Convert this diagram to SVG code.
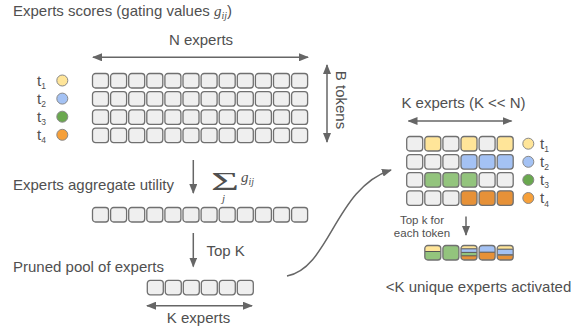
<svg xmlns="http://www.w3.org/2000/svg" xmlns:xlink="http://www.w3.org/1999/xlink" width="579" height="333" viewBox="0 0 579 333">
<style>
text{font-family:"Liberation Sans",Arial,sans-serif;fill:#505050}
.lbl{font-size:15px}
.small{font-size:11.5px}
.math{font-family:"Liberation Serif","Times New Roman",serif;font-style:italic}
.ln{stroke:#666;stroke-width:1.5;fill:none}
.g{fill:#efefef}.y{fill:#ffe599}.b{fill:#a4c2f4}.gr{fill:#93c47d}.o{fill:#e69138}
.c{stroke:#888;stroke-width:1}
.sep{stroke:#555;stroke-width:1}
</style>
<defs>
<rect id="bx" width="16" height="14.5" rx="3" stroke="#707070" stroke-width="1.3"/>
<marker id="ah" markerUnits="userSpaceOnUse" markerWidth="10" markerHeight="8" refX="9" refY="4" orient="auto-start-reverse">
<path d="M0,0 L10,4 L0,8 z" fill="#666"/>
</marker>
<clipPath id="rc" clipPathUnits="objectBoundingBox"><rect x="0" y="0" width="1" height="1" rx="0.19" ry="0.2"/></clipPath>
</defs>

<g id="title"><text class="lbl" x="13" y="16">Experts scores (gating values <tspan class="math">g</tspan><tspan class="math" font-size="10" dy="3">ij</tspan><tspan dy="-3">)</tspan></text></g>

<g id="n-experts-label"><text class="lbl" x="201" y="44.5" text-anchor="middle">N experts</text></g>
<g id="b-tokens-label"><text class="lbl" transform="translate(336,100) rotate(90)" text-anchor="middle">B tokens</text></g>

<g id="token-labels-left">
<circle class="c y" cx="62.3" cy="80.5" r="5.5"/>
<circle class="c b" cx="62.3" cy="98.6" r="5.5"/>
<circle class="c" fill="#6aa84f" cx="62.3" cy="116.7" r="5.5"/>
<circle class="c" fill="#f6a03a" cx="62.3" cy="134.8" r="5.5"/>
<text class="lbl" x="37" y="85.5">t<tspan font-size="8.5" dy="3.5">1</tspan></text>
<text class="lbl" x="37" y="103.6">t<tspan font-size="8.5" dy="3.5">2</tspan></text>
<text class="lbl" x="37" y="121.7">t<tspan font-size="8.5" dy="3.5">3</tspan></text>
<text class="lbl" x="37" y="139.8">t<tspan font-size="8.5" dy="3.5">4</tspan></text>
</g>

<g id="score-grid" class="g">
<use href="#bx" x="92.5" y="73.5"/><use href="#bx" x="110.6" y="73.5"/><use href="#bx" x="128.7" y="73.5"/><use href="#bx" x="146.8" y="73.5"/><use href="#bx" x="164.9" y="73.5"/><use href="#bx" x="183" y="73.5"/><use href="#bx" x="201.1" y="73.5"/><use href="#bx" x="219.2" y="73.5"/><use href="#bx" x="237.3" y="73.5"/><use href="#bx" x="255.4" y="73.5"/><use href="#bx" x="273.5" y="73.5"/><use href="#bx" x="291.6" y="73.5"/>
<use href="#bx" x="92.5" y="91.7"/><use href="#bx" x="110.6" y="91.7"/><use href="#bx" x="128.7" y="91.7"/><use href="#bx" x="146.8" y="91.7"/><use href="#bx" x="164.9" y="91.7"/><use href="#bx" x="183" y="91.7"/><use href="#bx" x="201.1" y="91.7"/><use href="#bx" x="219.2" y="91.7"/><use href="#bx" x="237.3" y="91.7"/><use href="#bx" x="255.4" y="91.7"/><use href="#bx" x="273.5" y="91.7"/><use href="#bx" x="291.6" y="91.7"/>
<use href="#bx" x="92.5" y="109.9"/><use href="#bx" x="110.6" y="109.9"/><use href="#bx" x="128.7" y="109.9"/><use href="#bx" x="146.8" y="109.9"/><use href="#bx" x="164.9" y="109.9"/><use href="#bx" x="183" y="109.9"/><use href="#bx" x="201.1" y="109.9"/><use href="#bx" x="219.2" y="109.9"/><use href="#bx" x="237.3" y="109.9"/><use href="#bx" x="255.4" y="109.9"/><use href="#bx" x="273.5" y="109.9"/><use href="#bx" x="291.6" y="109.9"/>
<use href="#bx" x="92.5" y="128.1"/><use href="#bx" x="110.6" y="128.1"/><use href="#bx" x="128.7" y="128.1"/><use href="#bx" x="146.8" y="128.1"/><use href="#bx" x="164.9" y="128.1"/><use href="#bx" x="183" y="128.1"/><use href="#bx" x="201.1" y="128.1"/><use href="#bx" x="219.2" y="128.1"/><use href="#bx" x="237.3" y="128.1"/><use href="#bx" x="255.4" y="128.1"/><use href="#bx" x="273.5" y="128.1"/><use href="#bx" x="291.6" y="128.1"/>
</g>

<g id="aggregate-label">
<text class="lbl" x="13" y="190">Experts aggregate utility</text>
<text transform="translate(225,190) scale(2.1,1.05)" text-anchor="middle" font-size="23" style="font-family:'Liberation Serif','Times New Roman',serif">Σ</text>
<text class="math" x="241" y="182" font-size="15">g<tspan font-size="10" dy="3">ij</tspan></text>
<text class="math" x="223.5" y="202" font-size="11" text-anchor="middle">j</text>
</g>

<g id="aggregate-row" class="g">
<use href="#bx" x="92.5" y="207.5"/><use href="#bx" x="110.6" y="207.5"/><use href="#bx" x="128.7" y="207.5"/><use href="#bx" x="146.8" y="207.5"/><use href="#bx" x="164.9" y="207.5"/><use href="#bx" x="183" y="207.5"/><use href="#bx" x="201.1" y="207.5"/><use href="#bx" x="219.2" y="207.5"/><use href="#bx" x="237.3" y="207.5"/><use href="#bx" x="255.4" y="207.5"/><use href="#bx" x="273.5" y="207.5"/><use href="#bx" x="291.6" y="207.5"/>
</g>

<g id="topk-label"><text class="lbl" x="206.5" y="256">Top K</text></g>
<g id="pruned-label"><text class="lbl" x="13" y="271.5">Pruned pool of experts</text></g>

<g id="pruned-row" class="g">
<use href="#bx" x="147.3" y="280.3"/><use href="#bx" x="165.3" y="280.3"/><use href="#bx" x="183.3" y="280.3"/><use href="#bx" x="201.3" y="280.3"/><use href="#bx" x="219.3" y="280.3"/><use href="#bx" x="237.3" y="280.3"/>
</g>
<g id="k-experts-label"><text class="lbl" x="198.5" y="323" text-anchor="middle">K experts</text></g>

<g id="right-title"><text class="lbl" x="463.5" y="107.5" text-anchor="middle">K experts (K &lt;&lt; N)</text></g>

<g id="right-grid">
<use href="#bx" class="g" x="406.7" y="136.5"/><use href="#bx" class="y" x="424.8" y="136.5"/><use href="#bx" class="g" x="442.9" y="136.5"/><use href="#bx" class="y" x="461" y="136.5"/><use href="#bx" class="g" x="479.1" y="136.5"/><use href="#bx" class="y" x="497.2" y="136.5"/>
<use href="#bx" class="g" x="406.7" y="154.6"/><use href="#bx" class="g" x="424.8" y="154.6"/><use href="#bx" class="g" x="442.9" y="154.6"/><use href="#bx" class="b" x="461" y="154.6"/><use href="#bx" class="b" x="479.1" y="154.6"/><use href="#bx" class="b" x="497.2" y="154.6"/>
<use href="#bx" class="g" x="406.7" y="172.7"/><use href="#bx" class="gr" x="424.8" y="172.7"/><use href="#bx" class="gr" x="442.9" y="172.7"/><use href="#bx" class="gr" x="461" y="172.7"/><use href="#bx" class="g" x="479.1" y="172.7"/><use href="#bx" class="g" x="497.2" y="172.7"/>
<use href="#bx" class="g" x="406.7" y="190.8"/><use href="#bx" class="g" x="424.8" y="190.8"/><use href="#bx" class="g" x="442.9" y="190.8"/><use href="#bx" class="o" x="461" y="190.8"/><use href="#bx" class="o" x="479.1" y="190.8"/><use href="#bx" class="o" x="497.2" y="190.8"/>
</g>

<g id="token-labels-right">
<circle class="c y" cx="528.3" cy="143.7" r="5.5"/>
<circle class="c b" cx="528.3" cy="161.8" r="5.5"/>
<circle class="c" fill="#6aa84f" cx="528.3" cy="179.9" r="5.5"/>
<circle class="c" fill="#f6a03a" cx="528.3" cy="198" r="5.5"/>
<text class="lbl" x="540" y="148.7">t<tspan font-size="8.5" dy="3.5">1</tspan></text>
<text class="lbl" x="540" y="166.8">t<tspan font-size="8.5" dy="3.5">2</tspan></text>
<text class="lbl" x="540" y="184.9">t<tspan font-size="8.5" dy="3.5">3</tspan></text>
<text class="lbl" x="540" y="203">t<tspan font-size="8.5" dy="3.5">4</tspan></text>
</g>

<g id="topk-token-label">
<text class="small" x="422" y="223.5" text-anchor="middle">Top k for</text>
<text class="small" x="422" y="237" text-anchor="middle">each token</text>
</g>

<g id="activated-boxes">
<g clip-path="url(#rc)">
<rect class="y" x="424.8" y="245.2" width="16" height="6.3"/><rect class="gr" x="424.8" y="251.5" width="16" height="8.5"/>
<line class="sep" x1="424.8" y1="251.5" x2="440.8" y2="251.5"/>
</g>
<use href="#bx" x="424.8" y="245.5" fill="none"/>
<use href="#bx" class="gr" x="442.9" y="245.5"/>
<g clip-path="url(#rc)">
<rect class="y" x="461" y="245.2" width="16" height="3.6"/><rect class="b" x="461" y="248.8" width="16" height="3.6"/><rect class="gr" x="461" y="252.4" width="16" height="3.4"/><rect class="o" x="461" y="255.8" width="16" height="4.2"/>
<line class="sep" x1="461" y1="248.8" x2="477" y2="248.8"/><line class="sep" x1="461" y1="252.4" x2="477" y2="252.4"/><line class="sep" x1="461" y1="255.8" x2="477" y2="255.8" stroke-width="1.4"/>
</g>
<use href="#bx" x="461" y="245.5" fill="none"/>
<g clip-path="url(#rc)">
<rect class="b" x="479.1" y="245.2" width="16" height="7"/><rect class="o" x="479.1" y="252.2" width="16" height="7.8"/>
<line class="sep" x1="479.1" y1="252.2" x2="495.1" y2="252.2"/>
</g>
<use href="#bx" x="479.1" y="245.5" fill="none"/>
<g clip-path="url(#rc)">
<rect class="y" x="497.2" y="245.2" width="16" height="4"/><rect class="b" x="497.2" y="249.2" width="16" height="5"/><rect fill="#555" x="497.2" y="254.2" width="16" height="1.6"/><rect class="o" x="497.2" y="255.8" width="16" height="4.2"/>
<line class="sep" x1="497.2" y1="249.2" x2="513.2" y2="249.2"/>
</g>
<use href="#bx" x="497.2" y="245.5" fill="none"/>
</g>

<g id="activated-label"><text class="lbl" x="478.5" y="292" text-anchor="middle">&lt;K unique experts activated</text></g>

<g id="connectors">
<line class="ln" x1="93" y1="57.3" x2="308" y2="57.3" marker-start="url(#ah)" marker-end="url(#ah)"/>
<line class="ln" x1="327" y1="65" x2="327" y2="142" marker-start="url(#ah)" marker-end="url(#ah)"/>
<line class="ln" x1="193.3" y1="160" x2="193.3" y2="193" marker-end="url(#ah)"/>
<line class="ln" x1="193.3" y1="233" x2="193.3" y2="266.5" marker-end="url(#ah)"/>
<line class="ln" x1="147" y1="305.7" x2="252" y2="305.7" marker-start="url(#ah)" marker-end="url(#ah)"/>
<line class="ln" x1="408.5" y1="121" x2="511.5" y2="121" marker-start="url(#ah)" marker-end="url(#ah)"/>
<line class="ln" x1="466" y1="216.5" x2="466" y2="235" marker-end="url(#ah)"/>
<path class="ln" d="M287,276 C330,268 335,188 391,170" marker-end="url(#ah)"/>
</g>
</svg>
